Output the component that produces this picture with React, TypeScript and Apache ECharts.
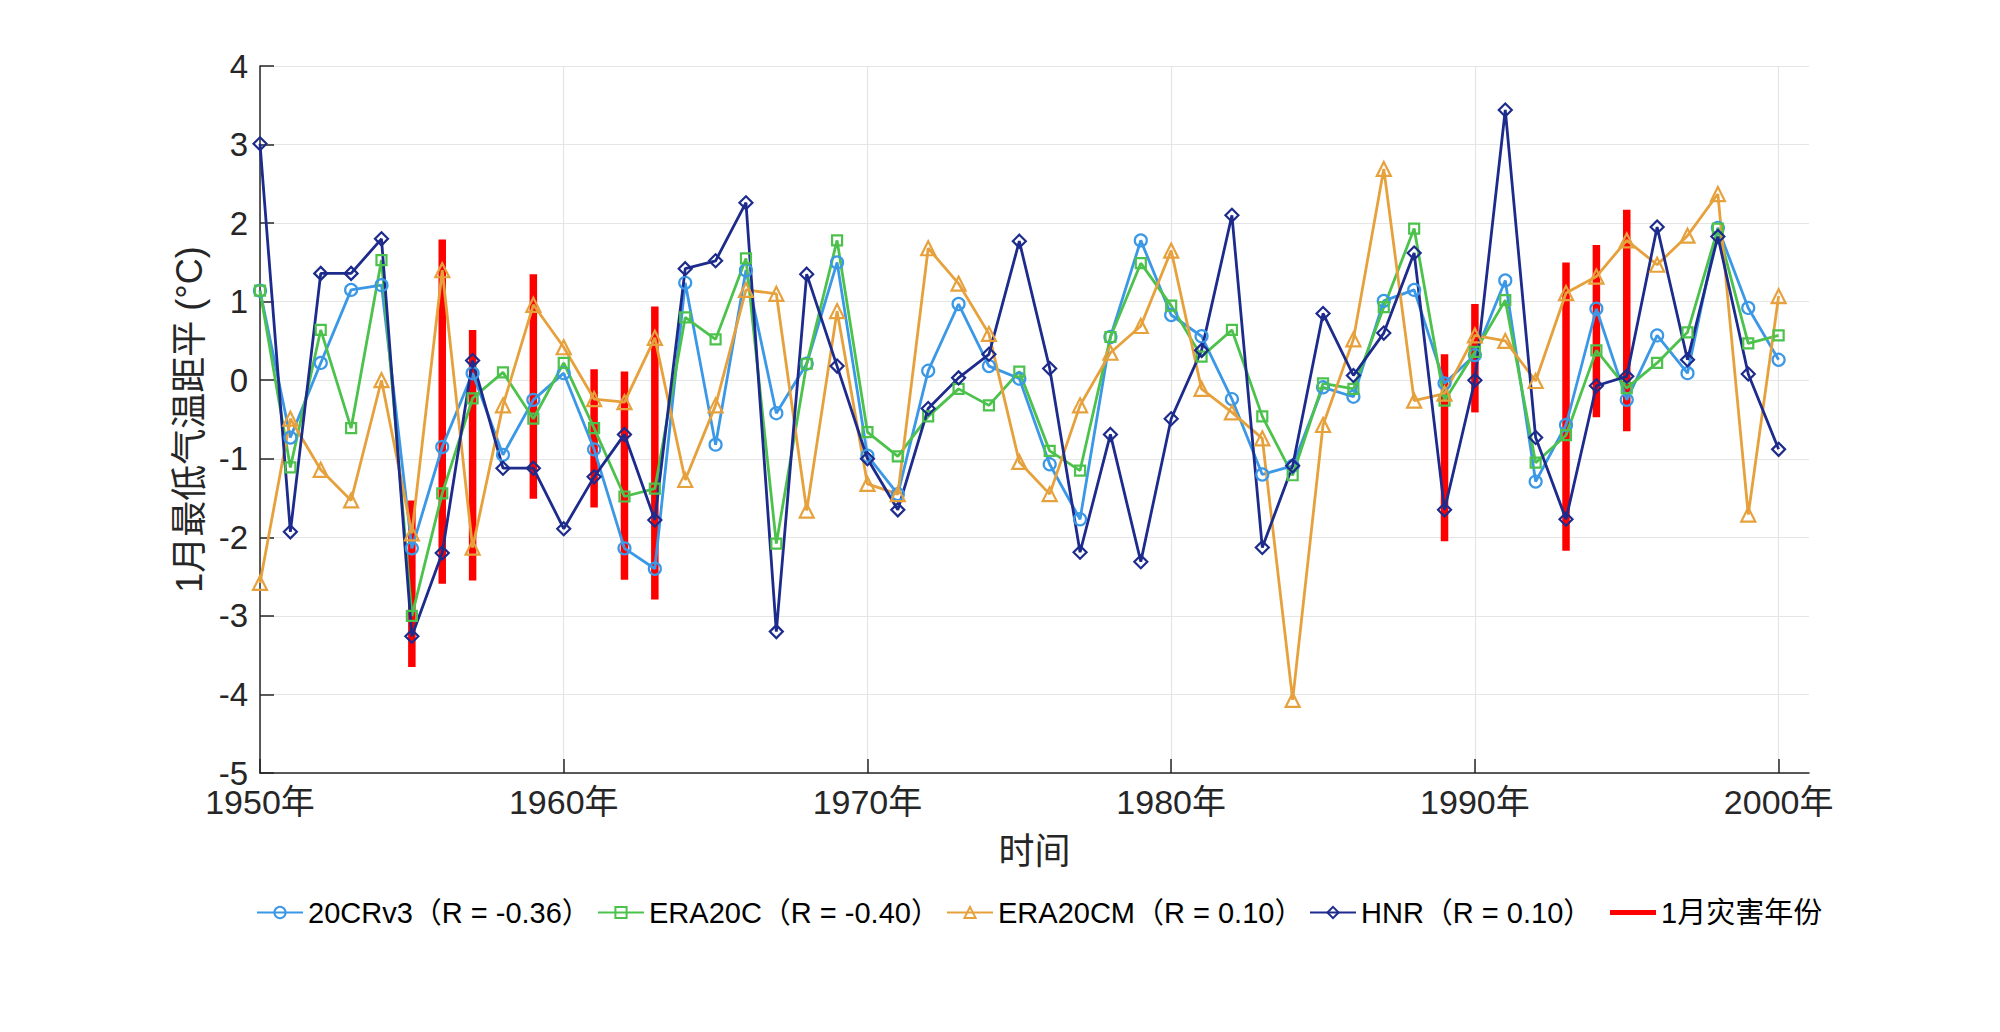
import React, { useEffect, useRef } from "react";
import * as echarts from "echarts";

const years = [
  1950, 1951, 1952, 1953, 1954, 1955, 1956, 1957, 1958, 1959,
  1960, 1961, 1962, 1963, 1964, 1965, 1966, 1967, 1968, 1969,
  1970, 1971, 1972, 1973, 1974, 1975, 1976, 1977, 1978, 1979,
  1980, 1981, 1982, 1983, 1984, 1985, 1986, 1987, 1988, 1989,
  1990, 1991, 1992, 1993, 1994, 1995, 1996, 1997, 1998, 1999, 2000,
];

const cr20v3 = [
  1.14, -0.73, 0.22, 1.15, 1.21, -2.14, -0.85, 0.09, -0.95, -0.25,
  0.09, -0.88, -2.14, -2.4, 1.24, -0.82, 1.4, -0.42, 0.21, 1.5,
  -0.96, -1.45, 0.12, 0.97, 0.18, 0.02, -1.07, -1.77, 0.55, 1.78,
  0.83, 0.56, -0.24, -1.2, -1.09, -0.09, -0.21, 1.01, 1.15, -0.04,
  0.32, 1.27, -1.29, -0.57, 0.91, -0.25, 0.57, 0.09, 1.94, 0.92, 0.26,
];

const era20c = [
  1.14, -1.11, 0.64, -0.61, 1.53, -3.0, -1.44, -0.23, 0.1, -0.49,
  0.22, -0.61, -1.48, -1.38, 0.8, 0.52, 1.55, -2.08, 0.21, 1.78,
  -0.66, -0.97, -0.46, -0.11, -0.32, 0.11, -0.9, -1.15, 0.55, 1.49,
  0.95, 0.3, 0.64, -0.46, -1.21, -0.04, -0.11, 0.93, 1.93, -0.26,
  0.36, 1.02, -1.05, -0.7, 0.38, -0.1, 0.22, 0.61, 1.93, 0.47, 0.57,
];

const era20cm = [
  -2.58, -0.49, -1.14, -1.53, 0.0, -1.95, 1.4, -2.13, -0.32, 0.96,
  0.42, -0.24, -0.28, 0.54, -1.27, -0.32, 1.15, 1.1, -1.66, 0.88,
  -1.32, -1.45, 1.68, 1.23, 0.59, -1.04, -1.45, -0.32, 0.35, 0.69,
  1.65, -0.11, -0.41, -0.74, -4.07, -0.57, 0.52, 2.69, -0.26, -0.17,
  0.57, 0.5, -0.01, 1.11, 1.32, 1.78, 1.47, 1.84, 2.37, -1.71, 1.07,
];

const hnr = [
  3.01, -1.93, 1.36, 1.36, 1.8, -3.26, -2.2, 0.25, -1.12, -1.12,
  -1.89, -1.23, -0.69, -1.78, 1.42, 1.52, 2.26, -3.2, 1.35, 0.18,
  -1.0, -1.65, -0.36, 0.03, 0.33, 1.77, 0.15, -2.19, -0.69, -2.31,
  -0.49, 0.38, 2.1, -2.13, -1.09, 0.85, 0.06, 0.6, 1.62, -1.65,
  0.0, 3.44, -0.73, -1.77, -0.07, 0.05, 1.95, 0.26, 1.83, 0.08, -0.88,
];

const disasterYears = [1955, 1956, 1957, 1959, 1961, 1962, 1963, 1989, 1990, 1993, 1994, 1995];
const disasterLow = [-3.65, -2.59, -2.55, -1.51, -1.62, -2.54, -2.79, -2.05, -0.41, -2.17, -0.47, -0.65];
const disasterHigh = [-1.53, 1.79, 0.64, 1.35, 0.14, 0.11, 0.94, 0.33, 0.97, 1.5, 1.72, 2.17];

const xTickYears = [1950, 1960, 1970, 1980, 1990, 2000];

const seriesNames = [
  "20CRv3（R = -0.36）",
  "ERA20C（R = -0.40）",
  "ERA20CM（R = 0.10）",
  "HNR（R = 0.10）",
  "1月灾害年份",
];

const legendLefts = [251, 592, 941, 1304, 1605];

const FONT = "'Liberation Sans', Arial, 'Noto Sans CJK SC', sans-serif";

function lineSeries(name: string, values: number[], color: string, symbol: string, size: number) {
  return {
    name,
    type: "line",
    data: years.map((y, i) => [y, values[i]]),
    symbol,
    symbolSize: size,
    color,
    lineStyle: { color, width: 2.8 },
    itemStyle: { color: "rgba(255,255,255,0)", borderColor: color, borderWidth: 2.2 },
    z: 3,
  };
}

export default function App() {
  const ref = useRef<HTMLDivElement>(null);
  useEffect(() => {
    if (!ref.current) return;
    const chart = echarts.init(ref.current, undefined, { renderer: "svg" });
    const barData = disasterYears.map((y, i) => [y, disasterLow[i], disasterHigh[i]]);
    const legends = seriesNames.map((name, i) => ({
      left: legendLefts[i],
      top: 893,
      itemWidth: 46,
      itemHeight: 14,
      itemGap: 0,
      textStyle: { fontSize: 29, color: "#000", fontFamily: FONT },
      data: [
        i === 4
          ? { name, icon: "path://M0,0 L48,0 L48,5 L0,5 Z", itemStyle: { color: "#ff0000" } }
          : { name },
      ],
    }));
    chart.setOption({
      animation: false,
      backgroundColor: "#ffffff",
      textStyle: { fontFamily: FONT },
      grid: { left: 260, right: 191, top: 66, bottom: 259 },
      legend: legends,
      xAxis: {
        type: "value",
        min: 1950,
        max: 2001,
        interval: 10,
        name: "时间",
        nameLocation: "middle",
        nameGap: 60,
        nameTextStyle: { fontSize: 36, color: "#262626", fontFamily: FONT },
        axisLine: { show: true, onZero: false, lineStyle: { color: "#262626", width: 1.5 } },
        axisTick: { show: true, inside: true, length: 14, customValues: xTickYears, lineStyle: { color: "#262626", width: 1.5 } },
        axisLabel: {
          customValues: xTickYears,
          fontSize: 34,
          color: "#262626",
          margin: 12,
          fontFamily: FONT,
          formatter: (v: number) => v + "年",
        },
        splitLine: { show: true, lineStyle: { color: "#e5e5e5", width: 1.2 } },
      },
      yAxis: {
        type: "value",
        min: -5,
        max: 4,
        interval: 1,
        name: "1月最低气温距平 (°C)",
        nameLocation: "middle",
        nameGap: 49,
        nameTextStyle: { fontSize: 36, color: "#262626", fontFamily: FONT },
        axisLine: { show: true, lineStyle: { color: "#262626", width: 1.5 } },
        axisTick: { show: true, inside: true, length: 14, lineStyle: { color: "#262626", width: 1.5 } },
        axisLabel: { fontSize: 33, color: "#262626", margin: 12, fontFamily: FONT },
        splitLine: { show: true, lineStyle: { color: "#e5e5e5", width: 1.2 } },
      },
      series: [
        {
          name: seriesNames[4],
          type: "custom",
          data: barData,
          encode: { x: 0, y: [1, 2] },
          z: 2,
          color: "#ff0000",
          renderItem: (params: any, api: any) => {
            const x = api.value(0);
            const p1 = api.coord([x, api.value(1)]);
            const p2 = api.coord([x, api.value(2)]);
            return {
              type: "line",
              shape: { x1: p1[0], y1: p1[1], x2: p2[0], y2: p2[1] },
              style: { stroke: "#ff0000", lineWidth: 7.5 },
            };
          },
        },
        lineSeries(seriesNames[0], cr20v3, "#3b98e6", "circle", 12),
        lineSeries(seriesNames[1], era20c, "#4cc24c", "rect", 10),
        lineSeries(seriesNames[2], era20cm, "#e6a13c", "triangle", 14),
        lineSeries(seriesNames[3], hnr, "#1c2b8c", "diamond", 13),
      ],
    });
    return () => chart.dispose();
  }, []);
  return (
    <div
      ref={ref}
      style={{ position: "fixed", left: 0, top: 0, width: 2000, height: 1032, background: "#fff" }}
    />
  );
}
